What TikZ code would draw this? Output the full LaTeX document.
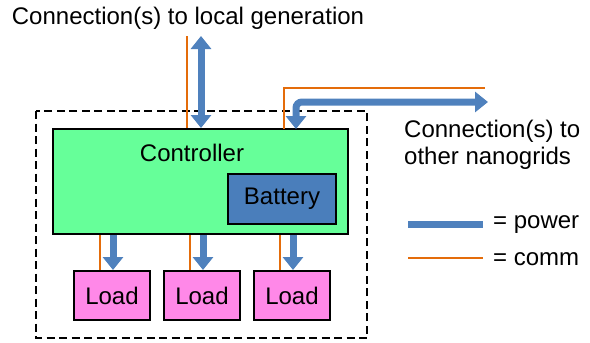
\documentclass[tikz,border=0pt]{standalone}
\usepackage{fontspec}
\setmainfont{Liberation Sans}
\usetikzlibrary{arrows.meta}
\definecolor{ctrlgreen}{RGB}{102,255,153}
\definecolor{batblue}{RGB}{74,126,187}
\definecolor{pwrblue}{RGB}{79,129,189}
\definecolor{loadpink}{RGB}{255,136,232}
\definecolor{commorange}{RGB}{228,108,10}
\tikzset{
  txt/.style={font=\fontsize{24}{26.5}\selectfont, inner sep=0pt},
  boxstyle/.style={draw=black, line width=2pt, inner sep=0pt},
  ctrlbox/.style={boxstyle, fill=ctrlgreen, minimum width=295pt, minimum height=105pt},
  batbox/.style={boxstyle, fill=batblue, minimum width=108pt, minimum height=50pt, txt},
  loadbox/.style={boxstyle, fill=loadpink, minimum width=76pt, minimum height=49pt, txt},
  comm/.style={draw=commorange, line width=1.8pt},
  power/.style={draw=pwrblue, line width=7pt, -{Triangle[width=20pt,length=13pt]}},
  power2/.style={draw=pwrblue, line width=7pt, {Triangle[width=20pt,length=13pt]}-{Triangle[width=20pt,length=13pt]}},
  powerline/.style={draw=pwrblue, line width=7pt},
  boundary/.style={draw=black, line width=1.8pt, dash pattern=on 8pt off 4.5pt}
}
\begin{document}
\begin{tikzpicture}[x=1pt,y=-1pt]
\useasboundingbox (0,0) rectangle (590,343);
% nanogrid boundary
\draw[boundary] (36,111) rectangle (367,338);
% controller and battery
\node[ctrlbox] (ctrl) at (200.5,181.5) {};
\node[txt] (ctrltxt) at (192,153) {Controller};
\node[batbox] (bat) at (282,199) {Battery};
% loads
\node[loadbox] (L1) at (112,295.5) {Load};
\node[loadbox] (L2) at (202,295.5) {Load};
\node[loadbox] (L3) at (292,295.5) {Load};
% load connections
\foreach \n in {L1,L2,L3}{
  \draw[comm] ([xshift=-12pt]\n.north) -- ([xshift=-12pt]\n.north |- ctrl.south);
  \draw[power] ([xshift=1pt]\n.north |- ctrl.south) -- ([xshift=1pt]\n.north);
}
% local generation
\node[txt] (gen) at (188,18) {Connection(s) to local generation};
\coordinate (genc) at (187,36);
\coordinate (genp) at (201,36);
\draw[comm] (genc) -- (genc |- ctrl.north);
\draw[power2] (genp) -- (genp |- ctrl.north);
% other nanogrids
\coordinate (oc) at (485,88);
\coordinate (op) at (488,102);
\coordinate (oca) at (284,129);
\coordinate (opa) at (296,129);
\draw[comm] (oca) |- (oc);
\draw[power2, rounded corners=6pt] (opa) |- (op);
\node[txt, anchor=north west, align=left] (other) at (404,120) {Connection(s) to\\other nanogrids};
% legend
\coordinate (lp1) at (408,224);
\coordinate (lp2) at (483,224);
\coordinate (lc1) at (408,258);
\coordinate (lc2) at (483,258);
\draw[powerline] (lp1) -- (lp2);
\draw[comm] (lc1) -- (lc2);
\node[txt, anchor=west] (lpt) at (493,225) {= power};
\node[txt, anchor=west] (lct) at (493,259) {= comm};
\end{tikzpicture}
\end{document}
